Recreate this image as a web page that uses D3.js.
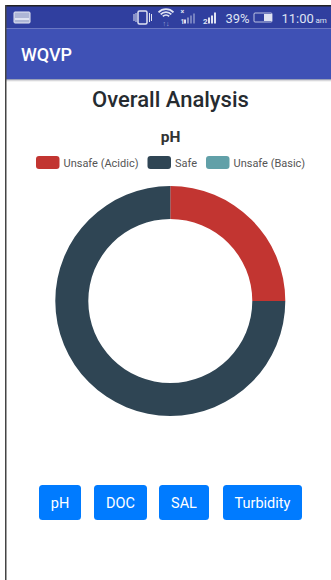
<!DOCTYPE html>
<html>
<head>
<meta charset="utf-8">
<script src="https://cdn.jsdelivr.net/npm/d3@7"></script>
<style>
  html, body { margin: 0; padding: 0; background: #fff; overflow: hidden; }
  svg { display: block; font-family: Roboto, sans-serif; }
</style>
</head>
<body>
<svg id="screen" width="331" height="580"></svg>
<script>
// pH shares shown in the doughnut
const categories = ["Unsafe (Acidic)", "Safe", "Unsafe (Basic)"];
const values = [25, 75, 0];
const colors = ["#c23531", "#2f4554", "#61a0a8"];
const buttonLabels = ["pH", "DOC", "SAL", "Turbidity"];

const svg = d3.select("#screen");

// Phone frame and app chrome
svg.append("rect").attr("x", 6).attr("y", 5).attr("width", 325).attr("height", 575).attr("fill", "#fff");
svg.append("rect").attr("x", 6).attr("y", 6).attr("width", 325).attr("height", 22.5).attr("fill", "#303f9f");
svg.append("rect").attr("x", 6).attr("y", 28.5).attr("width", 325).attr("height", 50.5).attr("fill", "#3f51b5");
const shadow = svg.append("g");
["#9aa0b8", "#d8d8dc", "#f3f3f3"].forEach((c, i) => {
  shadow.append("rect").attr("x", 6).attr("y", 79 + i).attr("width", 325).attr("height", 1).attr("fill", c);
});
svg.append("rect").attr("x", 5).attr("y", 5).attr("width", 326).attr("height", 1.5).attr("fill", "#222");
svg.append("rect").attr("x", 5).attr("y", 5).attr("width", 1.5).attr("height", 575).attr("fill", "#444");

// Status bar
const status = svg.append("g").attr("fill", "#dfe3f2");
status.append("rect").attr("x", 14).attr("y", 12).attr("width", 16).attr("height", 11).attr("rx", 1).attr("fill", "#aeb6d6").attr("stroke", "#e4e7f4");
status.append("rect").attr("x", 15).attr("y", 18).attr("width", 14).attr("height", 2).attr("fill", "#dfe3f2");
// vibrate icon
status.append("rect").attr("x", 138).attr("y", 11).attr("width", 9).attr("height", 13).attr("rx", 1.5).attr("fill", "none").attr("stroke", "#dfe3f2").attr("stroke-width", 1.5);
[[133.5, 14, 7], [135.5, 13, 9], [149, 13, 9], [151, 14, 7]].forEach(([x, y, h]) => status.append("rect").attr("x", x).attr("y", y).attr("width", 1).attr("height", h));
// wifi arcs
[3.5, 6.5, 9.5].forEach(r => {
  status.append("path")
    .attr("d", d3.arc().innerRadius(r).outerRadius(r + 1.8).startAngle(-0.8).endAngle(0.8)())
    .attr("transform", "translate(166,19.5)");
});
status.append("text").attr("x", 166).attr("y", 26).attr("text-anchor", "middle").attr("font-size", 7).attr("fill", "#9fa8da").text("↑↓");
// signal bars
[[184, 4, 1], [187, 6, 0.5], [190, 8, 0.4], [193, 10, 0.4], [208, 6, 1], [211, 8, 1], [214, 11, 1]].forEach(([x, h, o]) => {
  status.append("rect").attr("x", x).attr("y", 23.5 - h).attr("width", 2).attr("height", h).attr("opacity", o);
});
status.append("text").attr("x", 180.5).attr("y", 14).attr("font-size", 7).attr("font-weight", 700).text("×");
status.append("text").attr("x", 180.5).attr("y", 23.5).attr("font-size", 7).attr("font-weight", 700).text("1");
status.append("text").attr("x", 203).attr("y", 23.5).attr("font-size", 8).attr("font-weight", 700).text("2");
status.append("text").attr("x", 225.5).attr("y", 23).attr("font-size", 13).text("39%");
status.append("rect").attr("x", 254).attr("y", 13).attr("width", 18).attr("height", 9).attr("rx", 1).attr("fill", "none").attr("stroke", "#dfe3f2").attr("stroke-width", 0.8);
status.append("rect").attr("x", 264).attr("y", 14).attr("width", 8).attr("height", 7);
status.append("text").attr("x", 281.5).attr("y", 23).attr("font-size", 13).text("11:00");
status.append("text").attr("x", 315.5).attr("y", 23).attr("font-size", 8).text("am");

svg.append("text").attr("x", 21).attr("y", 61).attr("font-size", 18).attr("font-weight", 500).attr("fill", "#fff").text("WQVP");

// Headings
svg.append("text").attr("x", 170.5).attr("y", 107).attr("text-anchor", "middle")
  .attr("font-size", 22).attr("font-weight", 500).attr("fill", "#262b30").text("Overall Analysis");
svg.append("text").attr("x", 170.5).attr("y", 142).attr("text-anchor", "middle")
  .attr("font-size", 15.5).attr("font-weight", 700).attr("fill", "#333").text("pH");

// Legend
const legendSwatchX = [36, 147.5, 206];
const legend = svg.append("g").selectAll("g").data(categories).join("g")
  .attr("transform", (d, i) => `translate(${legendSwatchX[i]},156)`);
legend.append("rect").attr("width", 23.5).attr("height", 13).attr("rx", 3)
  .attr("fill", (d, i) => colors[i]);
legend.append("text").attr("x", 27.5).attr("y", 11).attr("font-size", 11).attr("fill", "#555").text(d => d);

// Doughnut
const pie = d3.pie().sort(null).value(d => d);
const arc = d3.arc().innerRadius(82).outerRadius(115);
svg.append("g").attr("transform", "translate(170.3,301)")
  .selectAll("path").data(pie(values)).join("path")
  .attr("d", arc)
  .attr("fill", (d, i) => colors[i]);

// Parameter buttons
const buttonX = [39, 94, 159, 223];
const buttonW = [42, 53, 50, 79];
const buttons = svg.append("g").selectAll("g").data(buttonLabels).join("g")
  .attr("transform", (d, i) => `translate(${buttonX[i]},485)`);
buttons.append("rect").attr("width", (d, i) => buttonW[i]).attr("height", 35).attr("rx", 3.5).attr("fill", "#007bff");
buttons.append("text").attr("x", (d, i) => buttonW[i] / 2).attr("y", 23)
  .attr("text-anchor", "middle").attr("font-size", 14.5).attr("fill", "#fff").text(d => d);
</script>
</body>
</html>
